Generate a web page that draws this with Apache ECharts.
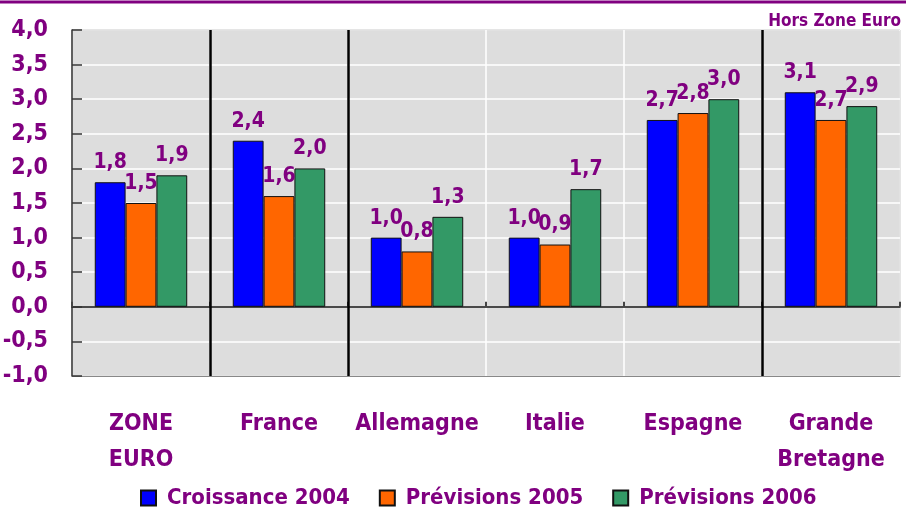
<!DOCTYPE html>
<html>
<head>
<meta charset="utf-8">
<script src="https://cdn.jsdelivr.net/npm/echarts@6/dist/echarts.min.js"></script>
<style>
  html, body { margin: 0; padding: 0; background: #fff; }
  #chart { width: 906px; height: 513px; }
</style>
</head>
<body>
<div id="chart"></div>
<script>
const categories = ['ZONE\nEURO', 'France', 'Allemagne', 'Italie', 'Espagne', 'Grande\nBretagne']
const croissance2004 = [1.8, 2.4, 1.0, 1.0, 2.7, 3.1]
const previsions2005 = [1.5, 1.6, 0.8, 0.9, 2.8, 2.7]
const previsions2006 = [1.9, 2.0, 1.3, 1.7, 3.0, 2.9]
const separators = [1, 2, 5]

const purple = '#800080'
const font = '"Liberation Sans Narrow", "DejaVu Sans Condensed", "Liberation Sans", Arial, sans-serif'
const fmt = v => v.toFixed(1).replace('.', ',')

function barSeries(name, data, color) {
  return {
    name,
    type: 'bar',
    data,
    xAxisIndex: 0,
    barGap: 0,
    barCategoryGap: '33%',
    itemStyle: { color, borderColor: '#111', borderWidth: 1 },
    label: {
      show: true,
      position: 'top',
      distance: 9,
      formatter: p => fmt(p.value),
      color: purple,
      fontFamily: font,
      fontWeight: 'bold',
      fontSize: 21,
    },
  }
}

const chart = echarts.init(document.getElementById('chart'))
chart.setOption({
  animation: false,
  textStyle: { fontFamily: font },
  graphic: [
    { type: 'line', shape: { x1: 0, y1: 2, x2: 906, y2: 2 }, style: { stroke: purple, lineWidth: 3 } },
  ],
  title: {
    text: 'Hors Zone Euro',
    right: 0,
    top: 8,
    textStyle: { color: purple, fontFamily: font, fontWeight: 'bold', fontSize: 17 },
  },
  grid: {
    left: 72, right: 6, top: 30, bottom: 137,
    outerBoundsMode: 'none',
    show: true,
    backgroundColor: '#dddddd',
    borderColor: '#333',
    borderWidth: 1,
  },
  legend: {
    data: ['Croissance 2004', 'Prévisions 2005', 'Prévisions 2006'],
    bottom: -1,
    left: 135,
    itemWidth: 15,
    itemHeight: 15,
    itemGap: 29,
    icon: 'rect',
    textStyle: {
      color: purple, fontFamily: font, fontWeight: 'bold', fontSize: 22,
      padding: [0, 0, 0, 6],
    },
  },
  xAxis: [
    {
      type: 'category',
      data: categories,
      position: 'bottom',
      axisLine: { onZero: false, lineStyle: { color: '#888' } },
      axisTick: { show: false },
      splitLine: { show: true, lineStyle: { color: '#fff', width: 1.5 } },
      axisLabel: {
        color: purple,
        fontFamily: font,
        fontWeight: 'bold',
        fontSize: 23,
        lineHeight: 36,
        margin: 30,
        interval: 0,
      },
    },
    {
      type: 'value',
      min: 0,
      max: 6,
      interval: 1,
      position: 'bottom',
      axisLine: { show: true, onZero: true, lineStyle: { color: '#111', width: 1.5 } },
      axisTick: { show: true, inside: true, length: 5, lineStyle: { color: '#444', width: 2 } },
      axisLabel: { show: false },
      splitLine: { show: false },
    },
  ],
  yAxis: {
    type: 'value',
    min: -1,
    max: 4,
    interval: 0.5,
    axisLine: { show: true, lineStyle: { color: '#333', width: 1.5 } },
    axisTick: { show: true, inside: true, length: 10, lineStyle: { color: '#333', width: 1.5 } },
    splitLine: { show: true, lineStyle: { color: '#fff', width: 1.5 } },
    axisLabel: {
      color: purple,
      fontFamily: font,
      fontWeight: 'bold',
      fontSize: 23,
      margin: 24,
      formatter: fmt,
    },
  },
  series: [
    barSeries('Croissance 2004', croissance2004, '#0000ff'),
    barSeries('Prévisions 2005', previsions2005, '#ff6600'),
    barSeries('Prévisions 2006', previsions2006, '#339966'),
    {
      type: 'line',
      xAxisIndex: 1,
      data: [],
      silent: true,
      markLine: {
        silent: true,
        symbol: 'none',
        label: { show: false },
        lineStyle: { color: '#000', width: 2.5, type: 'solid' },
        data: separators.map(x => ({ xAxis: x })),
      },
    },
  ],
})
</script>
</body>
</html>
